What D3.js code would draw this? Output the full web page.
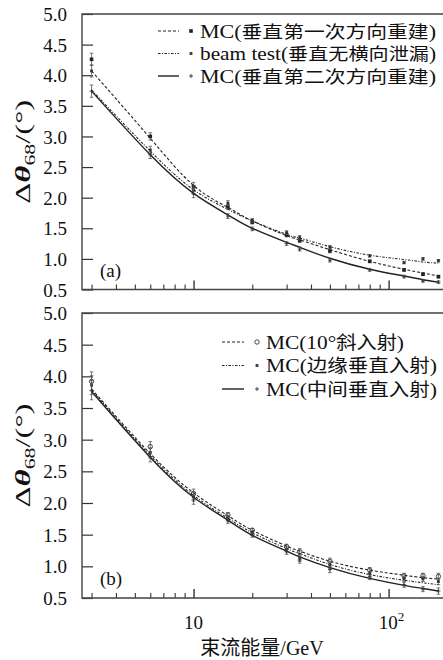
<!DOCTYPE html>
<html>
<head>
<meta charset="utf-8">
<script src="https://cdn.jsdelivr.net/npm/d3@7"></script>
<style>
  body { margin: 0; background: #fff; }
  svg { display: block; }
  text { font-family: "Liberation Serif", "Noto Sans CJK SC", serif; fill: #111; }
  .cjk { font-family: "Noto Sans CJK SC", sans-serif; }
</style>
</head>
<body>
<div id="chart"></div>
<script>
// 束流能量 (GeV)
const energies = [3, 6, 10, 15, 20, 30, 35, 50, 80, 120, 150, 180];

// (a) 测量点
const mcFirstA = [4.26, 3.00, 2.18, 1.85, 1.60, 1.39, 1.30, 1.13, 0.96, 0.82, 0.75, 0.71];
const beamA = [4.07, 2.78, 2.12, 1.91, 1.63, 1.43, 1.35, 1.19, 1.05, 0.94, 1.00, 0.97];
const mcSecondA = [3.74, 2.70, 2.07, 1.70, 1.49, 1.25, 1.16, 0.98, 0.82, 0.71, 0.64, 0.62];
const errA = [0.10, 0.06, 0.07, 0.04, 0.03, 0.03, 0.03, 0.03, 0.02, 0.02, 0.02, 0.02];
// (a) 拟合曲线
const mcFirstFitA = [4.07, 2.97, 2.20, 1.84, 1.62, 1.38, 1.31, 1.15, 0.96, 0.83, 0.77, 0.72];
const beamFitA = [3.76, 2.76, 2.13, 1.81, 1.62, 1.40, 1.34, 1.20, 1.06, 0.99, 0.95, 0.93];
const mcSecondFitA = [3.74, 2.70, 2.07, 1.72, 1.50, 1.27, 1.19, 1.01, 0.83, 0.72, 0.66, 0.62];

// (b) 测量点
const tiltB = [3.92, 2.89, 2.15, 1.81, 1.57, 1.31, 1.23, 1.08, 0.94, 0.85, 0.85, 0.84];
const edgeB = [3.86, 2.79, 2.10, 1.76, 1.53, 1.27, 1.13, 1.02, 0.88, 0.80, 0.80, 0.76];
const centerB = [3.78, 2.73, 2.05, 1.72, 1.49, 1.23, 1.10, 0.95, 0.83, 0.71, 0.64, 0.61];
const errB = [0.15, 0.08, 0.07, 0.04, 0.03, 0.04, 0.05, 0.05, 0.04, 0.04, 0.04, 0.05];
// (b) 拟合曲线
const tiltFitB = [3.80, 2.78, 2.16, 1.80, 1.57, 1.32, 1.24, 1.08, 0.94, 0.86, 0.82, 0.80];
const edgeFitB = [3.78, 2.75, 2.12, 1.76, 1.53, 1.28, 1.20, 1.03, 0.87, 0.78, 0.74, 0.71];
const centerFitB = [3.76, 2.72, 2.09, 1.73, 1.49, 1.24, 1.15, 0.98, 0.81, 0.70, 0.65, 0.61];

const yTicks = [0.5, 1.0, 1.5, 2.0, 2.5, 3.0, 3.5, 4.0, 4.5, 5.0];
const xMinor = [3, 4, 5, 6, 7, 8, 9, 20, 30, 40, 50, 60, 70, 80, 90];
const xMajor = [10, 100];

const legendA = [
  { latin: 'MC(', cjk: '垂直第一次方向重建', end: ')' },
  { latin: 'beam test(', cjk: '垂直无横向泄漏', end: ')' },
  { latin: 'MC(', cjk: '垂直第二次方向重建', end: ')' }
];
const legendB = [
  { latin: 'MC(10°', cjk: '斜入射', end: ')' },
  { latin: 'MC(', cjk: '边缘垂直入射', end: ')' },
  { latin: 'MC(', cjk: '中间垂直入射', end: ')' }
];

const W = 443, H = 660;
const svg = d3.select('#chart').append('svg').attr('width', W).attr('height', H);

const x = d3.scaleLog().domain([2.68, 190]).range([82, 443]);

const styles = {
  dashed: { dash: '3,2', width: 1.1 },
  dashdot: { dash: '2.5,1.5,1,1.5', width: 1.1 },
  solid: { dash: null, width: 1.4 }
};

function marker(g, type, cx, cy) {
  if (type === 'square') {
    g.append('rect').attr('x', cx - 1.8).attr('y', cy - 1.8).attr('width', 3.6).attr('height', 3.6).attr('fill', '#222');
  } else if (type === 'smallsquare') {
    g.append('rect').attr('x', cx - 1.4).attr('y', cy - 1.4).attr('width', 2.8).attr('height', 2.8).attr('fill', '#333');
  } else if (type === 'circle') {
    g.append('circle').attr('cx', cx).attr('cy', cy).attr('r', 2.2).attr('fill', 'none').attr('stroke', '#333').attr('stroke-width', 0.9);
  } else {
    g.append('path').attr('d', `M${cx - 2},${cy}H${cx + 2}M${cx},${cy - 2}V${cy + 2}`).attr('stroke', '#333').attr('stroke-width', 0.9);
  }
}

function panel(opt) {
  const { top, bottom, series, label, legend, legendX, legendRows, legendWidths, showXLabels } = opt;
  const y = d3.scaleLinear().domain([0.5, 5]).range([bottom, top]);
  const g = svg.append('g');

  // y axis, ticks inward
  const yAxis = d3.axisLeft(y).tickValues(yTicks).tickSizeInner(-11).tickSizeOuter(0).tickPadding(15)
    .tickFormat(d3.format('.1f'));
  const ya = g.append('g').attr('transform', `translate(${x.range()[0]},0)`).call(yAxis);
  ya.select('.domain').remove();
  ya.selectAll('line').attr('stroke', '#333').attr('stroke-width', 1.2);
  ya.selectAll('text').attr('font-size', 19).attr('dy', '0.35em')
    .style('font-family', '"Liberation Serif", serif').attr('fill', '#111');

  // x axis, minor / major ticks inward
  const xa = g.append('g').attr('transform', `translate(0,${bottom})`)
    .call(d3.axisBottom(x).tickValues(xMinor.concat(xMajor)).tickSizeInner(-5).tickSizeOuter(0).tickFormat(''));
  xa.select('.domain').remove();
  xa.selectAll('.tick line').attr('stroke', '#333').attr('stroke-width', 1.1)
    .filter(d => xMajor.includes(d)).attr('y2', -9).attr('stroke-width', 1.4);

  // frame
  g.append('path')
    .attr('d', `M${W + 2},${top}H${x.range()[0]}V${bottom}H${W + 2}`)
    .attr('fill', 'none').attr('stroke', '#444').attr('stroke-width', 1.4);

  const line = d3.line().x(d => x(d[0])).y(d => y(d[1])).curve(d3.curveNatural);

  series.forEach(s => {
    const st = styles[s.style];
    g.append('path')
      .attr('d', line(energies.map((e, i) => [e, s.fit[i]])))
      .attr('fill', 'none').attr('stroke', '#222').attr('stroke-width', st.width)
      .attr('stroke-dasharray', st.dash);
    const pts = g.append('g');
    energies.forEach((e, i) => {
      const cx = x(e), v = s.data[i], er = s.err[i];
      pts.append('path')
        .attr('d', `M${cx},${y(v - er)}V${y(v + er)}M${cx - 1.8},${y(v - er)}H${cx + 1.8}M${cx - 1.8},${y(v + er)}H${cx + 1.8}`)
        .attr('stroke', '#555').attr('stroke-width', 0.8);
      marker(pts, s.marker, cx, y(v));
    });
  });

  // legend
  const lg = g.append('g');
  series.forEach((s, i) => {
    const ry = legendRows[i];
    const st = styles[s.style];
    lg.append('line').attr('x1', legendX[0]).attr('x2', legendX[1]).attr('y1', ry).attr('y2', ry)
      .attr('stroke', '#222').attr('stroke-width', st.width).attr('stroke-dasharray', st.dash);
    marker(lg, s.marker, legendX[2], ry);
    const t = lg.append('text').attr('x', legendX[3]).attr('y', ry + 6.5).attr('font-size', opt.legendFont)
      .attr('textLength', legendWidths[i]).attr('lengthAdjust', 'spacingAndGlyphs');
    t.append('tspan').text(legend[i].latin);
    t.append('tspan').attr('class', 'cjk').attr('font-size', opt.legendFont - 1).text(legend[i].cjk);
    t.append('tspan').text(legend[i].end);
  });

  // panel label
  g.append('text').attr('x', 100).attr('y', bottom - 13).attr('font-size', 19).text(label);

  // y title
  const yt = g.append('text')
    .attr('transform', `translate(30,${(top + bottom) / 2}) rotate(-90)`)
    .attr('text-anchor', 'middle').attr('font-size', 21)
    .attr('textLength', 104).attr('lengthAdjust', 'spacingAndGlyphs');
  yt.append('tspan').text('Δ');
  yt.append('tspan').attr('font-style', 'italic').attr('font-weight', 'bold').text('θ');
  yt.append('tspan').attr('font-size', 14).attr('dy', 5).text('68');
  yt.append('tspan').attr('dy', -5).text('/(°)');

  if (showXLabels) {
    g.append('text').attr('x', x(10)).attr('y', bottom + 31).attr('text-anchor', 'middle').attr('font-size', 19).text('10');
    const t = g.append('text').attr('x', x(100) + 3).attr('y', bottom + 31).attr('text-anchor', 'middle').attr('font-size', 19);
    t.append('tspan').text('10');
    t.append('tspan').attr('font-size', 13).attr('dy', -8).text('2');
  }
}

panel({
  top: 14, bottom: 289.5, label: '(a)',
  series: [
    { data: mcFirstA, fit: mcFirstFitA, err: errA, style: 'dashed', marker: 'square' },
    { data: beamA, fit: beamFitA, err: errA, style: 'dashdot', marker: 'smallsquare' },
    { data: mcSecondA, fit: mcSecondFitA, err: errA, style: 'solid', marker: 'plus' }
  ],
  legend: legendA, legendX: [158, 179, 191, 200], legendRows: [31, 53.5, 76], legendWidths: [236, 236, 236],
  legendFont: 18, showXLabels: false
});

panel({
  top: 313, bottom: 598, label: '(b)',
  series: [
    { data: tiltB, fit: tiltFitB, err: errB, style: 'dashed', marker: 'circle' },
    { data: edgeB, fit: edgeFitB, err: errB, style: 'dashdot', marker: 'smallsquare' },
    { data: centerB, fit: centerFitB, err: errB, style: 'solid', marker: 'plus' }
  ],
  legend: legendB, legendX: [222, 244, 257, 266], legendRows: [342, 365.5, 389], legendWidths: [138, 171, 171],
  legendFont: 19, showXLabels: true
});

// x title
svg.append('text').attr('x', 262).attr('y', 655).attr('text-anchor', 'middle').attr('font-size', 20)
  .html('<tspan class="cjk">束流能量</tspan>/GeV');
</script>
</body>
</html>
